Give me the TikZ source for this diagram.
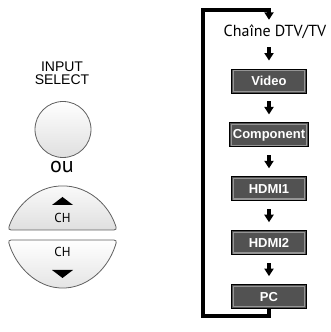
\documentclass[tikz,border=0pt]{standalone}
\usepackage{fontspec}
\setmainfont{PT Sans}
\newfontfamily\arialfont{Liberation Sans}
\usetikzlibrary{arrows.meta,positioning,shapes.geometric}

\definecolor{boxgray}{HTML}{525252}
\definecolor{bevelgray}{HTML}{959595}

\begin{document}
\begin{tikzpicture}[
    x=1pt, y=1pt,
    node distance=29pt,
    inputbox/.style={rectangle, draw=black, line width=0.9pt, fill=boxgray, minimum width=75pt, minimum height=24pt, inner xsep=3pt, inner ysep=0pt, text=white, font=\arialfont\bfseries\fontsize{13}{13}\selectfont,
        path picture={\draw[bevelgray, line width=1.2pt] ([shift={(1.7pt,-1.7pt)}]path picture bounding box.north west) rectangle ([shift={(-1.7pt,1.7pt)}]path picture bounding box.south east);}},
    flow/.style={-{Triangle[width=9pt,length=7.5pt]}, line width=3.2pt, shorten <=8pt, shorten >=8pt},
    loopline/.style={-{Triangle[width=9pt,length=7.5pt]}, line width=3.2pt},
    button/.style={draw=gray!75!black, line width=0.8pt, top color=white, bottom color=gray!25},
    chlabel/.style={font=\fontsize{13}{13}\selectfont, inner sep=0pt}
]
    \useasboundingbox (0,0) rectangle (331,332);

    % Remote buttons
    \node[font=\arialfont\fontsize{14}{13}\selectfont, align=center, inner sep=0pt] (select) at (62,259) {INPUT\\SELECT};
    \node[circle, minimum size=56pt, button] (round) at (63,202.5) {};
    \node[font=\fontsize{22}{22}\selectfont, inner sep=0pt] (ou) at (62,165) {ou};

    % Channel up / down
    \draw[button, rounded corners=3pt] (117,102) arc[start angle=20, end angle=160, x radius=58, y radius=67] -- cycle;
    \fill (52,127) -- (73,127) -- (62.5,135) -- cycle;
    \node[chlabel] (chup) at (62.5,114) {CH};
    \draw[button, rounded corners=3pt] (117,92) arc[start angle=-20, end angle=-160, x radius=58, y radius=73] -- cycle;
    \node[chlabel] (chdown) at (62.5,80) {CH};
    \fill (52,62) -- (73,62) -- (62.5,54) -- cycle;

    % Input sequence
    \node[font=\fontsize{16}{16}\selectfont, inner sep=0pt] (dtv) at (275,300) {Chaîne DTV/TV};
    \node[inputbox] (video) at (269,251) {Video};
    \node[inputbox, below=of video] (component) {Component};
    \node[inputbox, below=of component] (hdmi1) {HDMI1};
    \node[inputbox, below=of hdmi1] (hdmi2) {HDMI2};
    \node[inputbox, below=of hdmi2] (pc) {PC};

    % Connections
    \draw[flow] (dtv.south -| video.north) -- (video.north);
    \draw[flow] (video) -- (component);
    \draw[flow] (component) -- (hdmi1);
    \draw[flow] (hdmi1) -- (hdmi2);
    \draw[flow] (hdmi2) -- (pc);
    \coordinate (loopbottom) at (203,16);
    \coordinate (looptop) at (203,322);
    \draw[loopline, shorten >=5pt] (pc.south) |- (loopbottom) -- (looptop) -| (dtv.north -| video.north);
\end{tikzpicture}
\end{document}
